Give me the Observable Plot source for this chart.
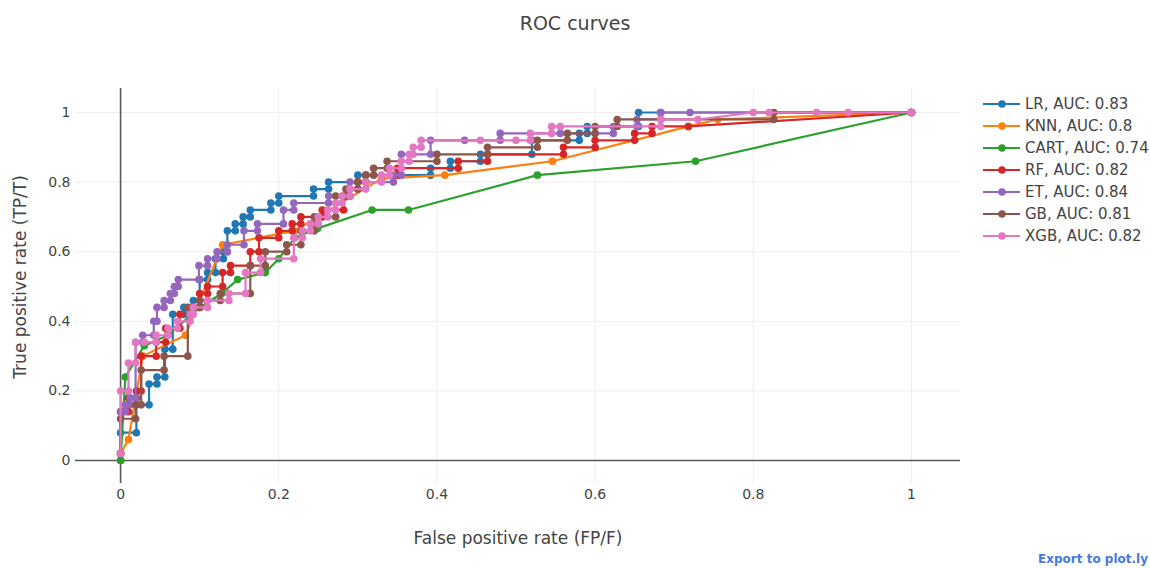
<!DOCTYPE html>
<html><head><meta charset="utf-8">
<script src="https://cdn.jsdelivr.net/npm/d3@7"></script>
<script src="https://cdn.jsdelivr.net/npm/@observablehq/plot@0.6"></script>
<style>
body{margin:0;background:#fff;font-family:"DejaVu Sans",Verdana,sans-serif;}
#wrap{position:relative;width:1150px;height:568px;overflow:hidden;}
#chart{position:absolute;left:0;top:0;}
#title{position:absolute;top:11px;left:0;width:1150px;text-align:center;font-size:19px;line-height:24px;color:#444;}
#legend{position:absolute;left:981px;top:93px;}
.item{display:flex;align-items:center;height:22px;font-size:15px;color:#444;white-space:nowrap;}
.item svg{margin-right:4px;}
#export{position:absolute;right:2px;top:552px;font-size:12px;font-weight:bold;color:#447adb;}
</style></head><body>
<div id="wrap"><div id="chart"></div><div id="title">ROC curves</div><div id="legend"></div><div id="export">Export to plot.ly</div></div>
<script>
const models = ["LR","KNN","CART","RF","ET","GB","XGB"];
const aucs = [0.83,0.8,0.74,0.82,0.84,0.81,0.82];
const colors = ["#1f77b4","#ff7f0e","#2ca02c","#d62728","#9467bd","#8c564b","#e377c2"];
const xTicks = [0,0.2,0.4,0.6,0.8,1];
const yTicks = [0,0.2,0.4,0.6,0.8,1];

const lrRoc = [[0,0],[0,0.08],[0.02,0.08],[0.02,0.16],[0.036,0.16],[0.036,0.22],[0.046,0.22],[0.046,0.24],[0.056,0.24],[0.056,0.32],[0.066,0.32],[0.066,0.42],[0.08,0.42],[0.08,0.44],[0.092,0.44],[0.092,0.46],[0.1,0.46],[0.1,0.52],[0.11,0.52],[0.11,0.54],[0.12,0.54],[0.12,0.58],[0.13,0.58],[0.13,0.6],[0.135,0.6],[0.135,0.66],[0.145,0.66],[0.145,0.68],[0.155,0.68],[0.155,0.7],[0.164,0.7],[0.164,0.72],[0.19,0.72],[0.19,0.74],[0.2,0.74],[0.2,0.76],[0.244,0.76],[0.244,0.78],[0.263,0.78],[0.263,0.8],[0.3,0.8],[0.3,0.82],[0.392,0.82],[0.392,0.84],[0.417,0.84],[0.417,0.86],[0.455,0.86],[0.455,0.88],[0.52,0.88],[0.52,0.92],[0.58,0.92],[0.58,0.94],[0.59,0.94],[0.59,0.96],[0.655,0.96],[0.655,1],[0.683,1],[1,1]];
const knnRoc = [[0,0],[0,0.02],[0.01,0.06],[0.028,0.3],[0.082,0.36],[0.129,0.62],[0.22,0.66],[0.33,0.81],[0.41,0.82],[0.546,0.86],[0.718,0.96],[0.755,0.98],[1,1]];
const cartRoc = [[0,0],[0.006,0.24],[0.03,0.33],[0.06,0.36],[0.1,0.44],[0.128,0.48],[0.148,0.52],[0.183,0.54],[0.2,0.58],[0.22,0.64],[0.249,0.667],[0.318,0.72],[0.364,0.72],[0.527,0.82],[0.727,0.86],[1,1]];
const rfRoc = [[0,0.02],[0,0.14],[0.01,0.14],[0.01,0.18],[0.02,0.18],[0.02,0.2],[0.026,0.2],[0.026,0.3],[0.045,0.3],[0.045,0.34],[0.057,0.34],[0.057,0.38],[0.075,0.38],[0.075,0.42],[0.09,0.42],[0.09,0.44],[0.1,0.44],[0.1,0.48],[0.11,0.48],[0.11,0.5],[0.129,0.5],[0.129,0.54],[0.139,0.54],[0.139,0.56],[0.164,0.56],[0.164,0.6],[0.175,0.6],[0.175,0.64],[0.2,0.64],[0.2,0.66],[0.217,0.66],[0.217,0.68],[0.228,0.68],[0.228,0.7],[0.255,0.7],[0.255,0.72],[0.282,0.72],[0.282,0.76],[0.29,0.76],[0.29,0.78],[0.3,0.78],[0.3,0.8],[0.31,0.8],[0.31,0.82],[0.35,0.82],[0.35,0.84],[0.427,0.84],[0.427,0.86],[0.464,0.86],[0.464,0.88],[0.56,0.88],[0.56,0.9],[0.6,0.9],[0.6,0.92],[0.65,0.92],[0.65,0.94],[0.672,0.94],[0.672,0.96],[0.718,0.96],[1,1]];
const etRoc = [[0,0.02],[0,0.14],[0.006,0.14],[0.006,0.16],[0.012,0.16],[0.012,0.18],[0.019,0.18],[0.019,0.34],[0.028,0.34],[0.028,0.36],[0.042,0.36],[0.042,0.4],[0.046,0.4],[0.046,0.44],[0.055,0.44],[0.055,0.46],[0.063,0.46],[0.063,0.48],[0.068,0.48],[0.068,0.5],[0.073,0.5],[0.073,0.52],[0.099,0.52],[0.099,0.56],[0.11,0.56],[0.11,0.58],[0.122,0.58],[0.122,0.6],[0.135,0.6],[0.135,0.62],[0.156,0.62],[0.156,0.66],[0.173,0.66],[0.173,0.68],[0.206,0.68],[0.206,0.72],[0.219,0.72],[0.219,0.74],[0.263,0.74],[0.263,0.76],[0.29,0.76],[0.29,0.8],[0.345,0.8],[0.345,0.82],[0.355,0.82],[0.355,0.88],[0.392,0.88],[0.392,0.92],[0.435,0.92],[0.48,0.92],[0.48,0.94],[0.556,0.94],[0.623,0.94],[0.623,0.96],[0.653,0.96],[0.653,0.98],[0.683,0.98],[0.683,1],[0.72,1],[1,1]];
const gbRoc = [[0,0.02],[0,0.12],[0.019,0.12],[0.019,0.16],[0.026,0.16],[0.026,0.26],[0.055,0.26],[0.055,0.3],[0.085,0.3],[0.085,0.44],[0.1,0.44],[0.1,0.46],[0.126,0.46],[0.126,0.48],[0.164,0.48],[0.164,0.56],[0.183,0.56],[0.183,0.6],[0.21,0.6],[0.21,0.62],[0.228,0.62],[0.228,0.66],[0.245,0.66],[0.245,0.7],[0.272,0.7],[0.272,0.76],[0.285,0.76],[0.285,0.78],[0.3,0.78],[0.3,0.8],[0.31,0.8],[0.31,0.82],[0.32,0.82],[0.32,0.84],[0.337,0.84],[0.337,0.86],[0.4,0.86],[0.4,0.88],[0.464,0.88],[0.464,0.9],[0.527,0.9],[0.527,0.92],[0.565,0.92],[0.565,0.94],[0.6,0.94],[0.6,0.96],[0.628,0.96],[0.628,0.98],[0.826,0.98],[0.826,1],[1,1]];
const xgbRoc = [[0,0.02],[0,0.2],[0.01,0.2],[0.01,0.28],[0.019,0.28],[0.019,0.34],[0.03,0.34],[0.045,0.34],[0.045,0.36],[0.06,0.36],[0.06,0.38],[0.072,0.38],[0.072,0.4],[0.088,0.4],[0.088,0.42],[0.092,0.42],[0.092,0.44],[0.11,0.44],[0.11,0.46],[0.137,0.46],[0.137,0.48],[0.158,0.48],[0.158,0.54],[0.177,0.54],[0.177,0.58],[0.219,0.58],[0.219,0.64],[0.23,0.64],[0.23,0.66],[0.24,0.66],[0.24,0.68],[0.25,0.68],[0.25,0.7],[0.262,0.7],[0.262,0.72],[0.272,0.72],[0.272,0.74],[0.28,0.74],[0.28,0.76],[0.29,0.76],[0.29,0.78],[0.31,0.78],[0.31,0.8],[0.33,0.8],[0.33,0.82],[0.34,0.82],[0.34,0.84],[0.355,0.84],[0.355,0.86],[0.365,0.86],[0.365,0.88],[0.37,0.88],[0.37,0.9],[0.38,0.9],[0.38,0.92],[0.455,0.92],[0.5,0.92],[0.518,0.92],[0.518,0.94],[0.545,0.94],[0.545,0.96],[0.556,0.96],[0.683,0.96],[0.683,0.98],[0.73,0.98],[0.8,1],[0.82,1],[0.88,1],[0.92,1],[1,1]];

const curves = [lrRoc, knnRoc, cartRoc, rfRoc, etRoc, gbRoc, xgbRoc];
const rows = models.flatMap((m, i) => curves[i].map(([fpr, tpr]) => ({model: m, fpr, tpr})));

const seriesMarks = models.flatMap(m => {
  const d = rows.filter(r => r.model === m);
  return [
    Plot.line(d, {x: "fpr", y: "tpr", stroke: "model", strokeWidth: 2.2}),
    Plot.dot(d, {x: "fpr", y: "tpr", fill: "model", r: 3.8})
  ];
});

const chart = Plot.plot({
  width: 1150, height: 568,
  marginLeft: 75, marginRight: 190, marginTop: 88, marginBottom: 85,
  x: {domain: [-0.057, 1.062]},
  y: {domain: [-0.066, 1.069]},
  color: {domain: models, range: colors},
  style: {fontFamily: "'DejaVu Sans', Verdana, sans-serif", fontSize: "14px", color: "#444", background: "transparent"},
  marks: [
    Plot.gridX(xTicks.filter(d => d !== 0), {stroke: "#eee", strokeOpacity: 1, strokeWidth: 1}),
    Plot.gridY(yTicks.filter(d => d !== 0), {stroke: "#eee", strokeOpacity: 1, strokeWidth: 1}),
    Plot.ruleX([0], {stroke: "#5a5a5a", strokeWidth: 1.6}),
    Plot.ruleY([0], {stroke: "#5a5a5a", strokeWidth: 1.6}),
    Plot.axisX(xTicks, {tickSize: 0, tickPadding: 6, label: null, tickFormat: d => String(d), fill: "#444"}),
    Plot.axisY(yTicks, {tickSize: 0, tickPadding: 5, label: null, tickFormat: d => String(d), fill: "#444"}),
    Plot.text(["False positive rate (FP/F)"], {frameAnchor: "bottom", text: d => d, textAnchor: "middle", dy: 60, fontSize: 17, fill: "#444"}),
    Plot.text(["True positive rate (TP/T)"], {frameAnchor: "left", text: d => d, textAnchor: "middle", rotate: -90, dx: -55, dy: -9, fontSize: 17, fill: "#444"}),
    ...seriesMarks
  ]
});
document.getElementById("chart").appendChild(chart);

const legend = d3.select("#legend");
models.forEach((m, i) => {
  const item = legend.append("div").attr("class", "item");
  const svg = item.append("svg").attr("width", 40).attr("height", 22);
  svg.append("line").attr("x1", 2).attr("x2", 39).attr("y1", 11).attr("y2", 11).attr("stroke", colors[i]).attr("stroke-width", 2.2);
  svg.append("circle").attr("cx", 21).attr("cy", 11).attr("r", 3.8).attr("fill", colors[i]);
  item.append("span").text(`${m}, AUC: ${aucs[i]}`);
});
</script>
</body></html>
